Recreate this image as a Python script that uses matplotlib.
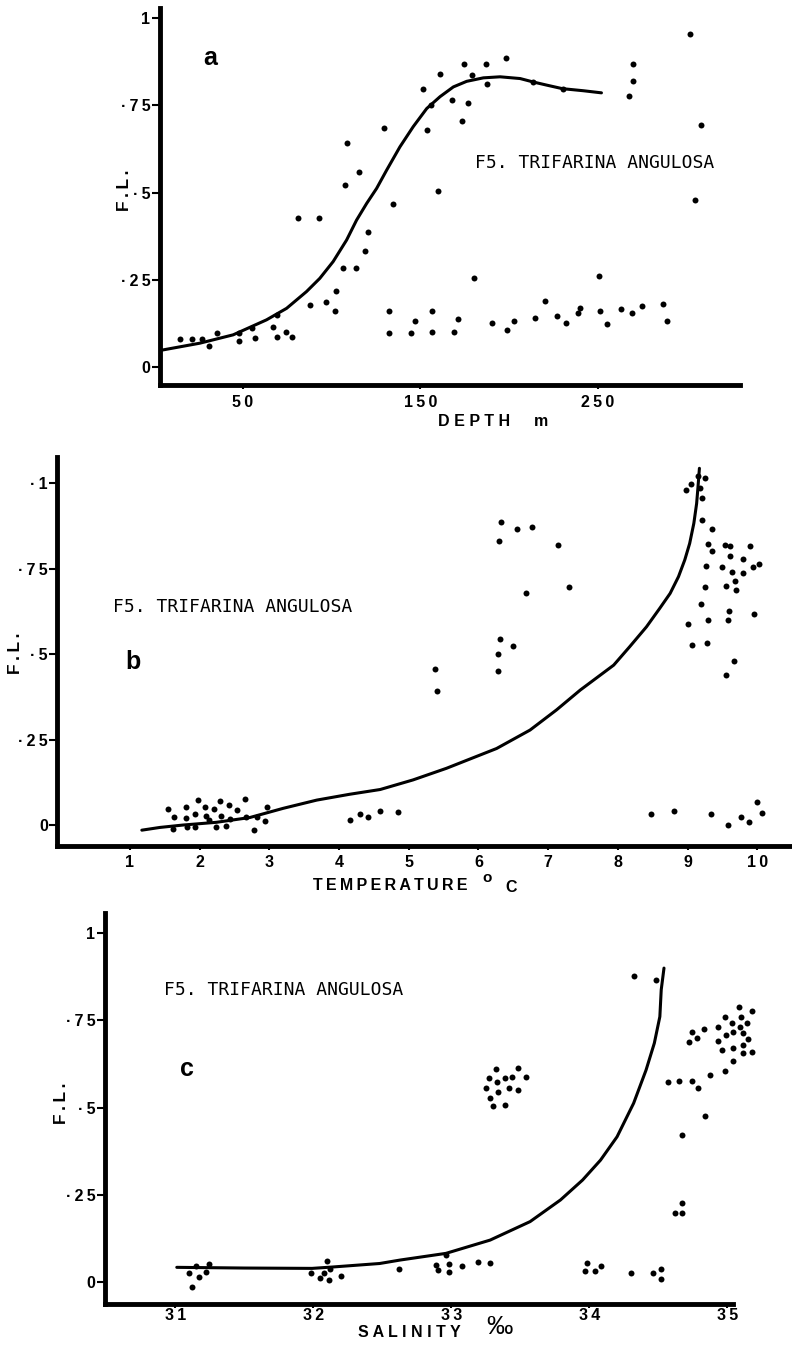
import matplotlib.pyplot as plt

# ---------------- panel a : F.L. against depth ----------------
depth_m = [14.6, 21.6, 26.9, 31.2, 35.3, 48.1, 48.1, 55.0, 56.9, 66.9, 69.1, 69.1,
           74.2, 77.6, 81.3, 87.9, 93.1, 96.9, 102.3, 102.0, 106.7, 107.6, 108.6,
           113.8, 115.7, 118.9, 120.4, 129.6, 132.6, 132.6, 134.8, 144.6, 147.0,
           151.7, 154.0, 156.1, 156.4, 156.8, 160.2, 161.1, 168.1, 169.0, 171.4,
           173.3, 174.8, 177.1, 179.0, 180.5, 187.0, 187.4, 190.6, 198.3, 198.7,
           203.0, 213.7, 214.6, 220.1, 226.9, 230.2, 232.1, 238.7, 240.0, 250.9,
           251.3, 255.0, 263.1, 267.4, 269.5, 269.5, 269.1, 275.1, 286.9, 288.8,
           301.6, 308.0, 304.8]
depth_fl = [0.080, 0.080, 0.080, 0.061, 0.097, 0.098, 0.075, 0.111, 0.084, 0.114, 0.087, 0.149,
            0.101, 0.087, 0.426, 0.178, 0.426, 0.187, 0.219, 0.159, 0.283, 0.521, 0.641,
            0.283, 0.558, 0.332, 0.388, 0.686, 0.159, 0.097, 0.466, 0.097, 0.132,
            0.796, 0.679, 0.751, 0.160, 0.099, 0.505, 0.840, 0.765, 0.099, 0.138,
            0.705, 0.868, 0.758, 0.837, 0.254, 0.870, 0.810, 0.125, 0.887, 0.106,
            0.132, 0.817, 0.139, 0.190, 0.147, 0.798, 0.127, 0.154, 0.168, 0.261,
            0.159, 0.123, 0.166, 0.778, 0.821, 0.870, 0.156, 0.175, 0.181, 0.132,
            0.956, 0.693, 0.480]
depth_curve_m = [3.2, 25.8, 44.6, 63.4, 74.7, 85.9, 93.4, 100.9, 108.5, 114.1, 119.8,
                 125.4, 131.0, 138.5, 146.0, 153.6, 161.1, 168.6, 176.1, 185.5, 194.9,
                 206.2, 213.7, 221.3, 230.0, 241.9, 252.0]
depth_curve_fl = [0.047, 0.068, 0.092, 0.135, 0.168, 0.216, 0.254, 0.302, 0.364, 0.421,
                  0.469, 0.512, 0.564, 0.631, 0.689, 0.741, 0.775, 0.803, 0.819, 0.829,
                  0.832, 0.827, 0.817, 0.808, 0.798, 0.792, 0.786]

# ---------------- panel b : F.L. against temperature ----------------
temp_c = [1.55, 1.63, 1.62, 1.80, 1.80, 1.82, 1.93, 1.93, 1.97, 2.08, 2.09, 2.13,
          2.21, 2.23, 2.29, 2.30, 2.38, 2.42, 2.43, 2.54, 2.65, 2.66, 2.78, 2.82,
          2.93, 2.96, 4.16, 4.30, 4.41, 4.59, 4.85,
          5.37, 5.41, 6.29, 6.33, 6.55, 6.77, 7.14, 7.30, 6.68, 6.31, 6.28, 6.50, 6.28,
          8.98, 9.05, 9.15, 9.25, 9.18, 9.20, 9.20, 9.35, 9.30, 9.35, 9.27, 9.53,
          9.61, 9.61, 9.89, 9.80, 9.49, 9.64, 9.79, 9.94, 10.02, 9.55, 9.68, 9.70,
          9.25, 9.19, 9.60, 9.58, 9.30, 9.95, 9.00, 9.06, 9.28, 9.66, 9.55,
          8.48, 8.80, 9.33, 9.58, 9.76, 9.88, 10.00, 10.07]
temp_fl = [0.046, 0.024, -0.013, 0.054, 0.021, -0.007, 0.031, -0.007, 0.073, 0.054, 0.027, 0.015,
           0.047, -0.007, 0.071, 0.027, -0.002, 0.060, 0.017, 0.044, 0.075, 0.024, -0.015, 0.024,
           0.013, 0.052, 0.015, 0.031, 0.024, 0.042, 0.039,
           0.456, 0.392, 0.831, 0.886, 0.865, 0.872, 0.819, 0.697, 0.678, 0.545, 0.502, 0.524, 0.452,
           0.982, 0.997, 1.021, 1.015, 0.985, 0.956, 0.893, 0.865, 0.822, 0.802, 0.759, 0.821,
           0.817, 0.787, 0.817, 0.778, 0.754, 0.740, 0.738, 0.754, 0.764, 0.700, 0.715, 0.687,
           0.697, 0.646, 0.627, 0.600, 0.599, 0.617, 0.587, 0.527, 0.532, 0.481, 0.439,
           0.032, 0.041, 0.031, 0.000, 0.024, 0.010, 0.068, 0.034]
temp_curve_c = [1.17, 1.43, 1.76, 2.24, 2.72, 3.20, 3.68, 4.15, 4.59, 5.06, 5.54, 6.26,
                6.74, 7.12, 7.46, 7.94, 8.17, 8.41, 8.60, 8.75, 8.87, 8.96, 9.03, 9.09,
                9.13, 9.15, 9.17]
temp_curve_fl = [-0.015, -0.007, 0.0, 0.008, 0.022, 0.049, 0.073, 0.090, 0.104, 0.132, 0.166,
                 0.224, 0.278, 0.337, 0.395, 0.468, 0.522, 0.580, 0.634, 0.678, 0.727, 0.776,
                 0.824, 0.883, 0.941, 0.990, 1.044]

# ---------------- panel c : F.L. against salinity ----------------
sal_ppt = [31.10, 31.12, 31.15, 31.17, 31.22, 31.24, 31.98, 32.05, 32.08, 32.10, 32.11, 32.12,
           32.20, 32.62, 32.89, 32.90, 32.96, 32.98, 32.98, 33.08, 33.19, 33.28,
           33.32, 33.27, 33.33, 33.39, 33.44, 33.48, 33.54, 33.25, 33.34, 33.42, 33.48,
           33.28, 33.30, 33.39,
           33.98, 33.97, 34.04, 34.08, 34.30, 34.46, 34.52, 34.52, 34.32, 34.48,
           34.57, 34.65, 34.74, 34.79, 34.87, 34.98, 34.84, 34.67, 34.67, 34.62, 34.67,
           34.74, 34.72, 34.78, 34.83, 34.93, 34.93, 34.98, 34.99, 34.96, 35.03, 35.04,
           35.04, 35.04, 35.08, 35.10, 35.09, 35.11, 35.14, 35.15, 35.11, 35.11, 35.18, 35.18]
sal_fl = [0.028, -0.013, 0.048, 0.016, 0.030, 0.052, 0.028, 0.013, 0.026, 0.062, 0.007, 0.038,
          0.018, 0.037, 0.050, 0.035, 0.078, 0.052, 0.029, 0.047, 0.057, 0.054,
          0.612, 0.586, 0.574, 0.586, 0.588, 0.614, 0.588, 0.558, 0.544, 0.557, 0.552,
          0.528, 0.506, 0.509,
          0.054, 0.032, 0.032, 0.048, 0.026, 0.026, 0.037, 0.011, 0.878, 0.867,
          0.574, 0.577, 0.578, 0.556, 0.593, 0.605, 0.477, 0.422, 0.228, 0.198, 0.199,
          0.716, 0.689, 0.699, 0.725, 0.730, 0.691, 0.760, 0.707, 0.666, 0.744, 0.718,
          0.672, 0.635, 0.788, 0.761, 0.732, 0.713, 0.742, 0.696, 0.681, 0.656, 0.661, 0.776]
sal_curve_ppt = [31.01, 31.5, 31.99, 32.14, 32.48, 32.63, 32.96, 33.28, 33.57, 33.79, 33.95,
                 34.08, 34.20, 34.32, 34.41, 34.47, 34.51, 34.52, 34.54]
sal_curve_fl = [0.043, 0.041, 0.040, 0.044, 0.054, 0.064, 0.083, 0.121, 0.174, 0.236, 0.293,
                0.350, 0.417, 0.513, 0.608, 0.685, 0.761, 0.838, 0.900]

fl_ticks = [0, 0.25, 0.5, 0.75, 1]
fl_labels = ["0", "·25", "·5", "·75", "1"]
fl_labels_b = ["0", "·25", "·5", "·75", "·1"]
depth_ticks = [50, 150, 250]
temp_ticks = [1, 2, 3, 4, 5, 6, 7, 8, 9, 10]
sal_ticks = [31, 32, 33, 34, 35]
species = "F5. TRIFARINA ANGULOSA"

SANS = ['Liberation Sans', 'DejaVu Sans']
MONO = ['DejaVu Sans Mono']
LAB = dict(family=SANS, fontsize=11.5, fontweight='bold', ha='center', va='center')


def spaced(s, sep="\u2009"):
    return sep.join(s)


def setup(ax, xlim, ylim, xticks, ylabels, xpad=4):
    ax.set_xlim(xlim)
    ax.set_ylim(ylim)
    ax.patch.set_alpha(0)
    for s in ['top', 'right']:
        ax.spines[s].set_visible(False)
    for s in ['left', 'bottom']:
        ax.spines[s].set_linewidth(3.5)
    ax.set_xticks(xticks)
    ax.set_xticklabels([spaced(str(t)) for t in xticks], fontsize=11.5,
                       fontweight='bold', family=SANS)
    ax.set_yticks(fl_ticks)
    ax.set_yticklabels([spaced(l) for l in ylabels], fontsize=11.5,
                       fontweight='bold', family=SANS)
    ax.tick_params(axis='y', direction='out', length=6, width=1.5, pad=1)
    ax.tick_params(axis='x', direction='out', length=3, width=1.5, pad=xpad)


def draw(ax, x, y, cx, cy):
    ax.plot(cx, cy, '-', color='black', lw=2.2, solid_capstyle='round',
            solid_joinstyle='round')
    ax.plot(x, y, 'o', color='black', ms=4.3, mec='none', clip_on=False)


def fl_label(ax, x, y):
    ax.text(x, y, spaced("F.L."), transform=ax.transAxes, rotation=90,
            family=SANS, fontsize=12.5, fontweight='bold', ha='center', va='center')


fig = plt.figure(figsize=(7.92, 13.52), dpi=100)

# panel a
ax = fig.add_axes([0.2020, 0.7152, 0.7323, 0.2788])
setup(ax, (3.4, 330), (-0.052, 1.029), depth_ticks, fl_labels)
draw(ax, depth_m, depth_fl, depth_curve_m, depth_curve_fl)
ax.text(180.8, 0.585, species, family=MONO, fontsize=13, ha='left', va='center')
ax.text(31.4, 0.885, "a", family=SANS, fontsize=18, fontweight='bold', ha='center', va='center')
fl_label(ax, -0.062, 0.517)
ax.text(0.541, -0.098, spaced("DEPTH", " "), transform=ax.transAxes, **LAB)
ax.text(0.657, -0.098, "m", transform=ax.transAxes, **LAB)

# panel b
ax = fig.add_axes([0.0726, 0.3746, 0.9249, 0.2876])
setup(ax, (-0.04, 10.47), (-0.060, 1.078), temp_ticks, fl_labels_b)
draw(ax, temp_c, temp_fl, temp_curve_c, temp_curve_fl)
ax.text(0.756, 0.639, species, family=MONO, fontsize=13, ha='left', va='center')
ax.text(1.04, 0.478, "b", family=SANS, fontsize=18, fontweight='bold', ha='center', va='center')
fl_label(ax, -0.058, 0.495)
ax.text(0.454, -0.1016, spaced("TEMPERATURE"), transform=ax.transAxes, **LAB)
ax.text(0.586, -0.0836, "o", transform=ax.transAxes, family=SANS,
        fontsize=11, fontweight='bold', ha='center', va='center')
ax.text(0.619, -0.1067, "C", transform=ax.transAxes, family=SANS,
        fontsize=11.5, fontweight='bold', ha='center', va='center')

# panel c
ax = fig.add_axes([0.1326, 0.0355, 0.8295, 0.2890])
setup(ax, (30.49, 35.25), (-0.062, 1.057), sal_ticks, fl_labels, xpad=0)
ax.spines['bottom'].set_bounds(30.49, 35.04)
draw(ax, sal_ppt, sal_fl, sal_curve_ppt, sal_curve_fl)
ax.text(30.92, 0.838, species, family=MONO, fontsize=13, ha='left', va='center')
ax.text(31.08, 0.610, "c", family=SANS, fontsize=18, fontweight='bold', ha='center', va='center')
fl_label(ax, -0.066, 0.514)
ax.text(0.464, -0.072, spaced("SALINITY", " "), transform=ax.transAxes, **LAB)
ax.text(0.600, -0.060, "‰", transform=ax.transAxes, family=SANS,
        fontsize=19, ha='center', va='center')

fig.savefig('out.png', dpi=100)
